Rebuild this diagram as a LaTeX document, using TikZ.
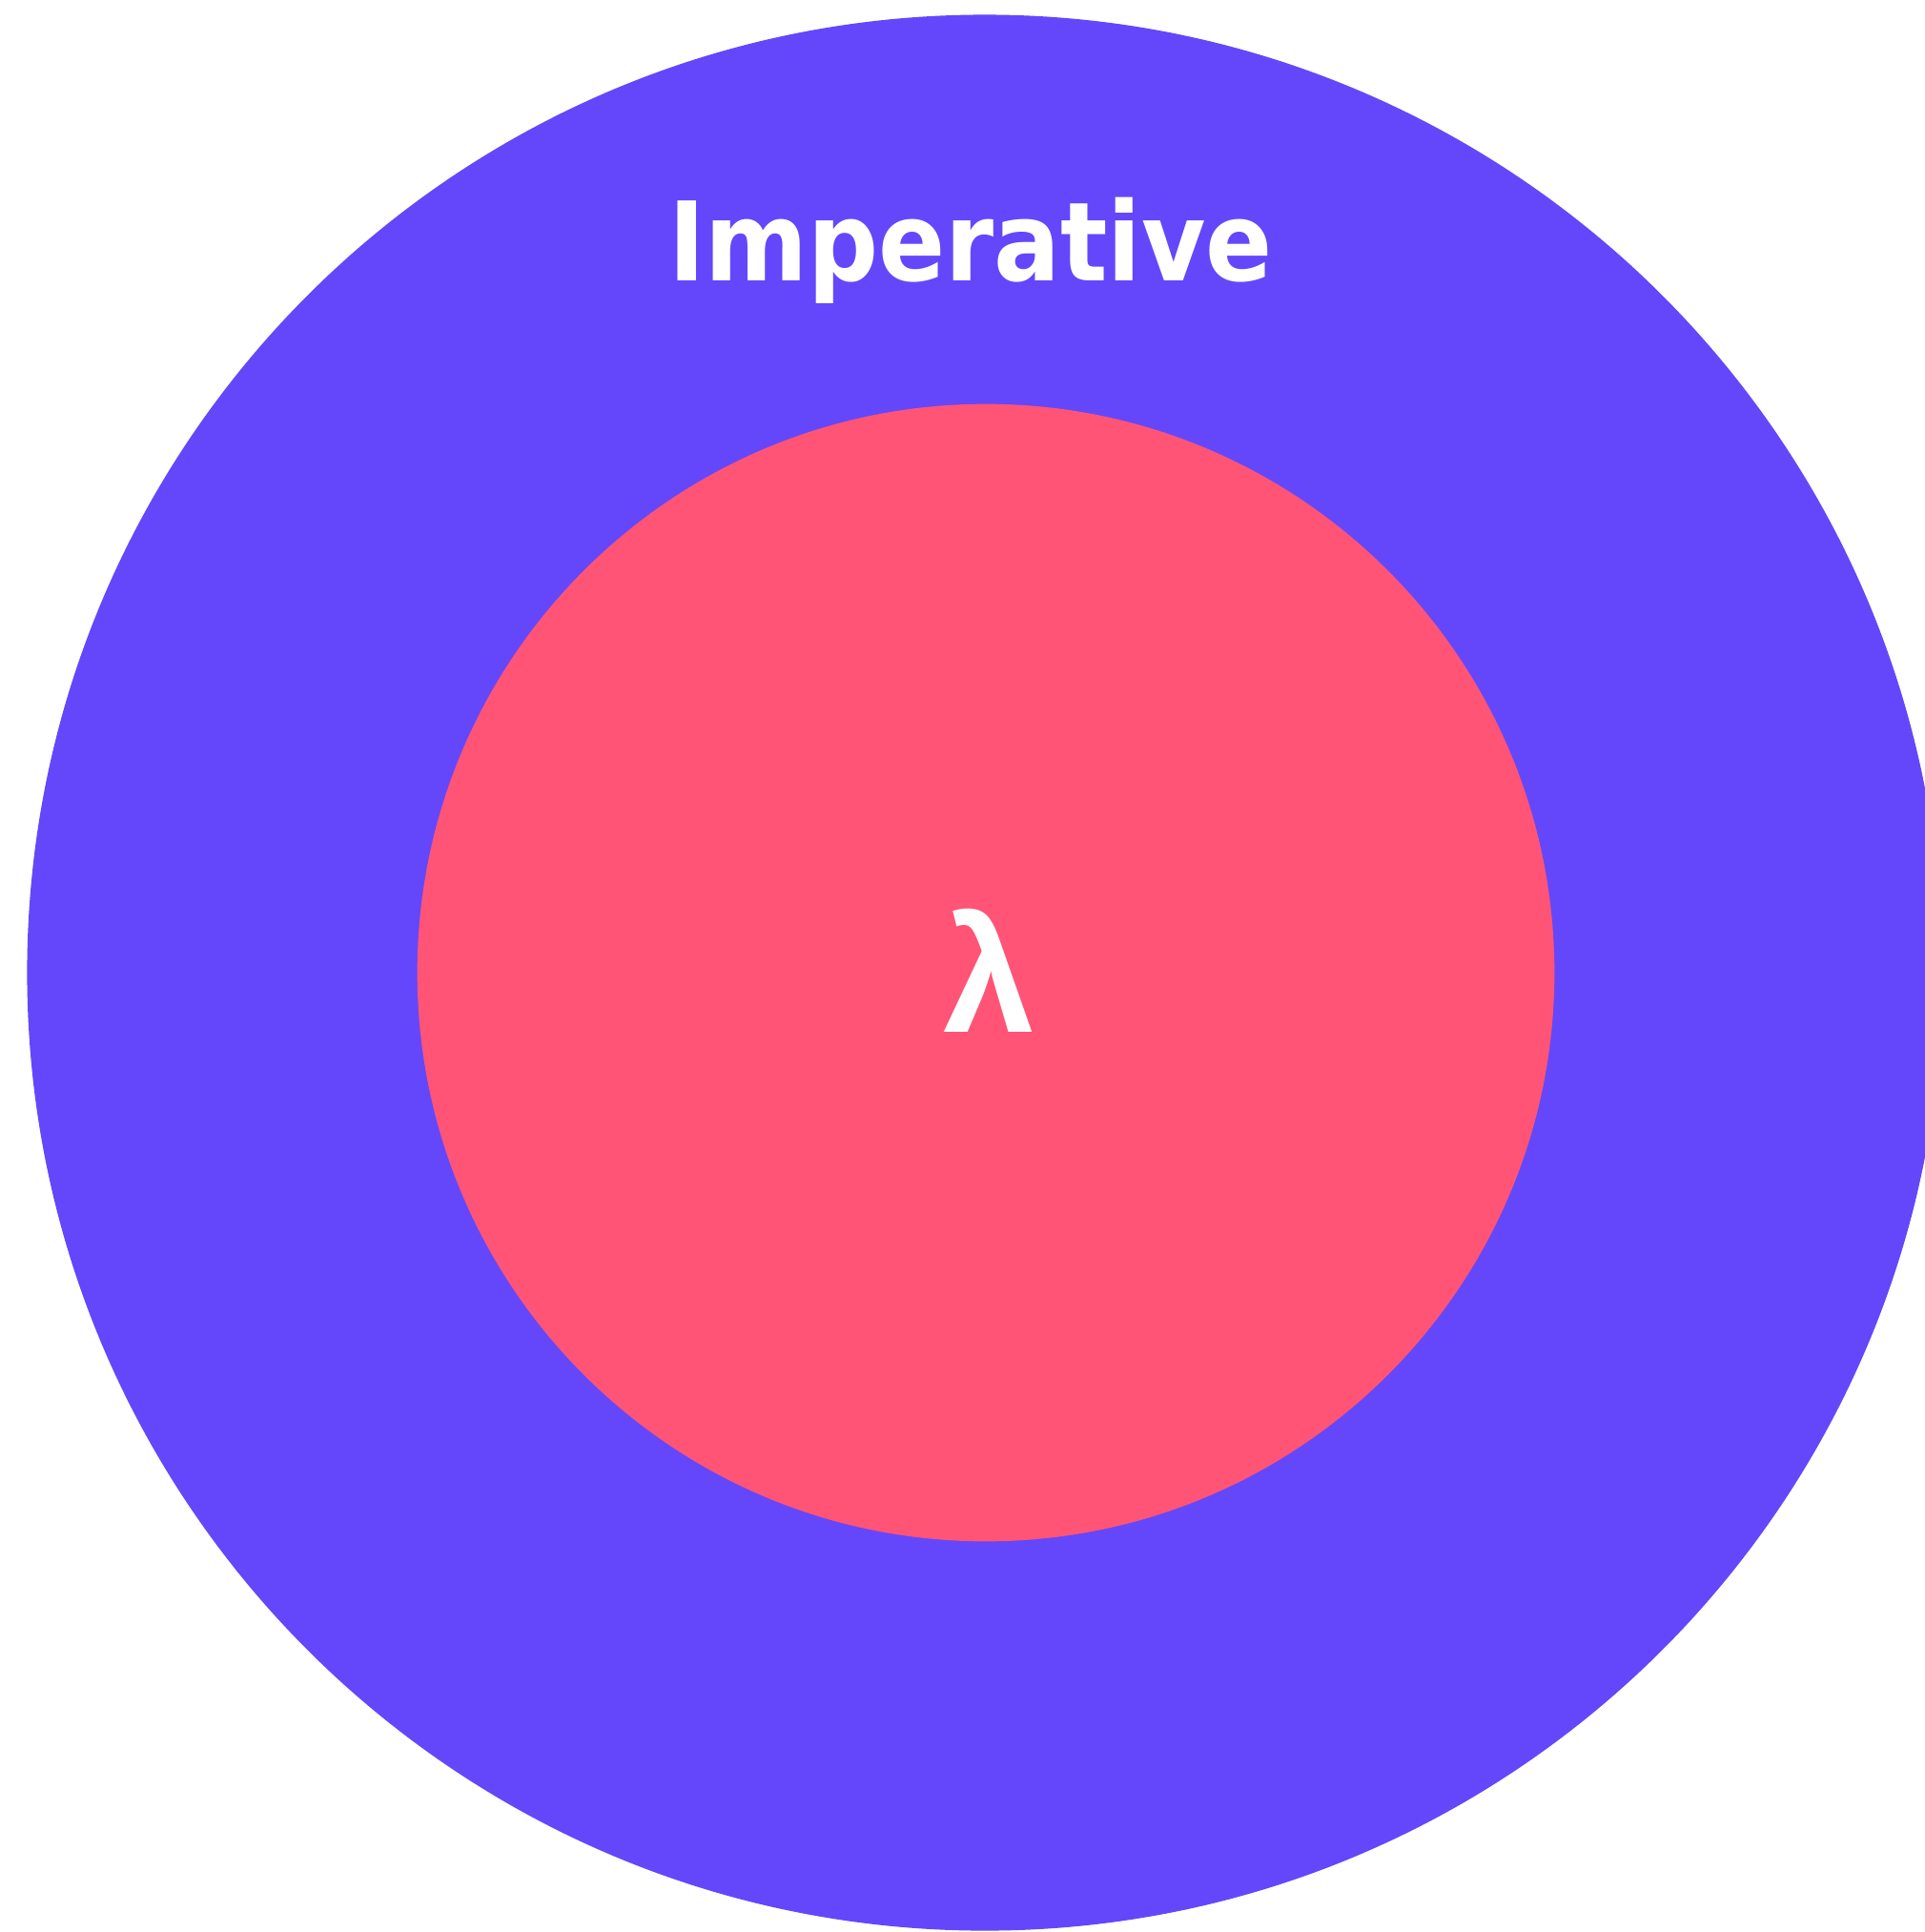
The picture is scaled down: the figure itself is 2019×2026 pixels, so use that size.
\documentclass[tikz,border=0pt]{standalone}
\usepackage{fontspec}
\setmainfont{DejaVu Sans Condensed}
\newfontfamily\lamfont{Liberation Sans}
\definecolor{outerpurple}{HTML}{6447FB}
\definecolor{innerpink}{HTML}{FF5476}
\begin{document}
\begin{tikzpicture}[x=0.01cm,y=-0.01cm,
  disc/.style={circle,inner sep=0pt,outer sep=0pt,draw=none},
  lbl/.style={text=white,anchor=base,inner sep=0pt}]
\useasboundingbox (0,0) rectangle (2019,2026);
\clip (0,0) rectangle (2019,2026);
\node[disc,fill=outerpurple,minimum size=20.08cm] (outer) at (1033,1020) {};
\node[disc,fill=innerpink,minimum size=11.92cm] (inner) at (1034,1020) {};
\node[lbl,font=\fontsize{32.7}{40}\selectfont\bfseries] (imp) at (1018,294) {Imperative};
\node[lbl,font=\lamfont\fontsize{49}{58}\selectfont\bfseries] (lam) at (1037,1082) {λ};
\end{tikzpicture}
\end{document}
